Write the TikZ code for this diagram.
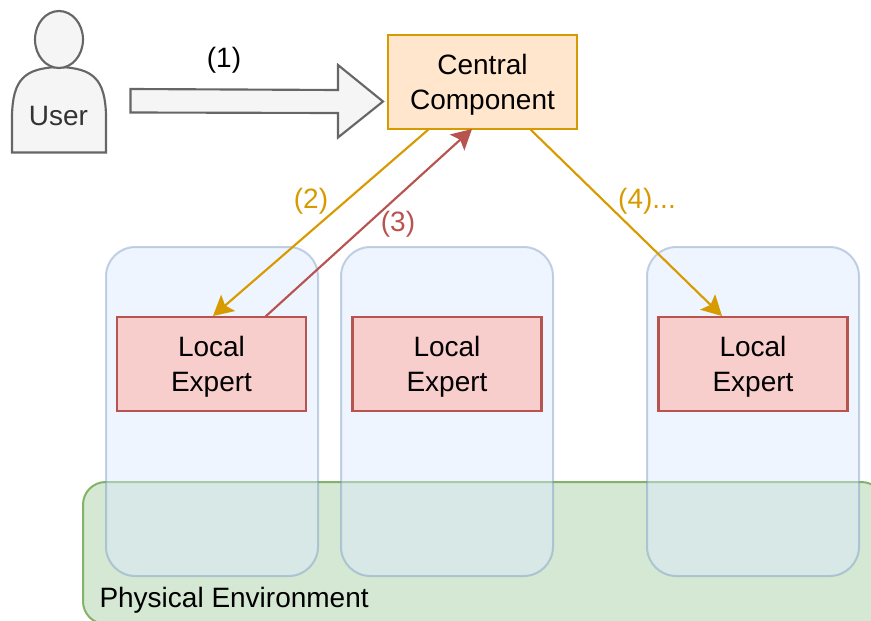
\documentclass[tikz,border=0pt]{standalone}
\usepackage{fontspec}
\setmainfont{Liberation Sans}
\usetikzlibrary{arrows.meta,calc}
\definecolor{orangeline}{HTML}{D79B00}
\definecolor{orangefill}{HTML}{FFE6CC}
\definecolor{redline}{HTML}{B85450}
\definecolor{redfill}{HTML}{F8CECC}
\definecolor{greenline}{HTML}{82B366}
\definecolor{greenfill}{HTML}{D5E8D4}
\definecolor{blueline}{HTML}{6C8EBF}
\definecolor{bluefill}{HTML}{DAE8FC}
\definecolor{greyline}{HTML}{666666}
\definecolor{greyfill}{HTML}{F5F5F5}
\definecolor{greytext}{HTML}{333333}
\newcommand{\lowered}[1]{\raisebox{-2.25pt}[\height][\depth]{\begin{tabular}{@{}c@{}}#1\end{tabular}}}
\tikzset{
  x=0.75pt,y=-0.75pt,
  every node/.style={font=\fontsize{21}{26.25}\selectfont,align=center,inner sep=0pt,outer sep=0pt},
  expert/.style={draw=redline,fill=redfill,line width=1.6pt,minimum width=141.75pt,minimum height=70.5pt},
  central/.style={draw=orangeline,fill=orangefill,line width=1.6pt,minimum width=141.75pt,minimum height=70.5pt},
  panel/.style={draw=blueline,fill=bluefill,draw opacity=.4,fill opacity=.45,line width=1.5pt,rounded corners=22pt,minimum width=159pt,minimum height=246.75pt},
  env/.style={draw=greenline,fill=greenfill,line width=1.5pt,rounded corners=17pt},
  usershape/.style={draw=greyline,fill=greyfill,line width=1.6pt},
  tip/.style={-{Stealth[length=15pt,width=16pt,inset=3pt]},line width=1.6pt,shorten >=0pt},
}
\begin{document}
\begin{tikzpicture}
\useasboundingbox (0,0) rectangle (871,621);
\clip (0,0) rectangle (871,621);
% environment
\draw[env] (83,482) rectangle (884,624);
% panels
\node[panel] (p1) at (212,411.5) {};
\node[panel] (p2) at (447,411.5) {};
\node[panel] (p3) at (753,411.5) {};
\node[anchor=base west] (envlabel) at (99.5,607) {Physical Environment};
% user
\draw[usershape] (12,152.5) -- (12,115) .. controls (13,80) and (24,68) .. (59,67) .. controls (94,68) and (105,80) .. (106,115) -- (106,152.5) -- cycle;
\draw[usershape] (59,39.5) ellipse [x radius=24,y radius=28.5];
\node[text=greytext] (user) at (58.5,116.5) {User};
% big arrow
\draw[draw=greyline,fill=greyfill,line width=1.6pt,miter limit=10]
  (130.5,89) -- (338,90) -- (338,65) -- (383,101.5) -- (338,137.5) -- (338,113) -- (130.5,112.5) -- cycle;
\node (one) at (224,60) {(1)};
% boxes
\node[central] (cc) at (482.5,82) {\lowered{Central\\Component}};
\node[expert] (e1) at (211.5,364) {\lowered{Local\\Expert}};
\node[expert] (e2) at (447,364) {\lowered{Local\\Expert}};
\node[expert] (e3) at (753,364) {\lowered{Local\\Expert}};
% connectors
\draw[tip,orangeline] ($(cc.south)+(-53.5,0)$) -- ($(e1.north)+(1.5,-1)$);
\draw[tip,redline] ($(e1.north)+(53.5,0)$) -- ($(cc.south)+(-10.5,0)$);
\draw[tip,orangeline] ($(cc.south)+(47.5,0)$) -- ($(e3.north)+(-31,-1)$);
\node[text=orangeline] (two) at (311,201) {(2)};
\node[text=redline] (three) at (398,224) {(3)};
\node[text=orangeline] (four) at (647,201) {(4)...};
\end{tikzpicture}
\end{document}
